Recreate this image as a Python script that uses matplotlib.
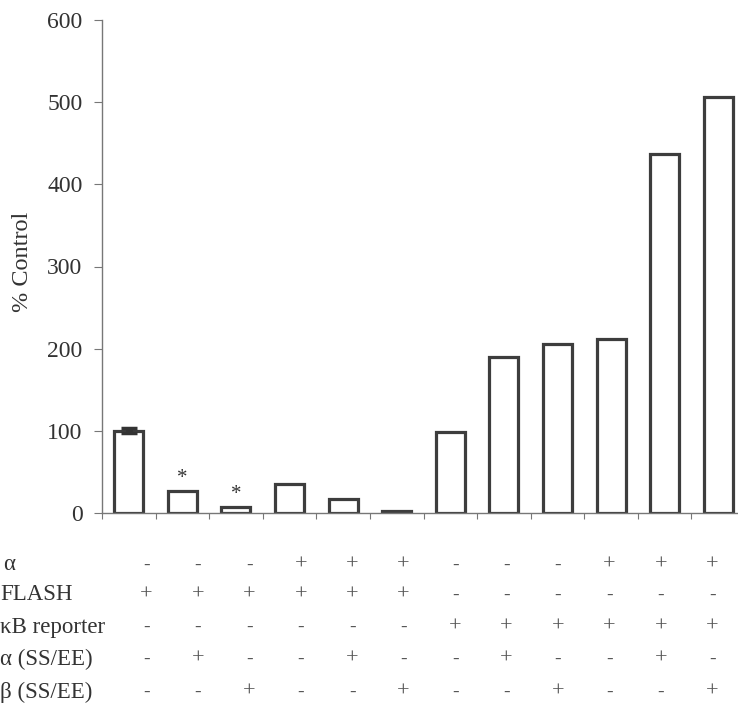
import matplotlib
matplotlib.use("Agg")
import matplotlib.pyplot as plt
import matplotlib.transforms as mtransforms

plt.rcParams['font.family'] = ['Liberation Serif', 'DejaVu Serif']

# ---- data ----
values = [100, 27, 7, 35, 17, 3, 98, 190, 206, 212, 437, 506]
errors = [3, 0, 0, 0, 0, 0, 0, 0, 0, 0, 0, 0]
significant = [False, True, True, False, False, False, False, False, False, False, False, False]
yticks = [0, 100, 200, 300, 400, 500, 600]
ylabel = "% Control"
row_labels = ["\u03b1", "FLASH", "\u03baB reporter", "\u03b1 (SS/EE)", "\u03b2 (SS/EE)"]
row_tnf = ["-", "-", "-", "+", "+", "+", "-", "-", "-", "+", "+", "+"]
row_flash = ["+", "+", "+", "+", "+", "+", "-", "-", "-", "-", "-", "-"]
row_reporter = ["-", "-", "-", "-", "-", "-", "+", "+", "+", "+", "+", "+"]
row_ikka = ["-", "+", "-", "-", "+", "-", "-", "+", "-", "-", "+", "-"]
row_ikkb = ["-", "-", "+", "-", "-", "+", "-", "-", "+", "-", "-", "+"]
rows = [row_tnf, row_flash, row_reporter, row_ikka, row_ikkb]

W, H = 738, 706
fig = plt.figure(figsize=(W / 100, H / 100), dpi=100)
ax = fig.add_axes([102 / W, 1 - 513 / H, 643 / W, (513 - 20) / H])

n = len(values)
xs = list(range(n))
edge = '#3d3d3d'
ax.bar(xs, values, width=0.54, facecolor='white', edgecolor=edge, linewidth=2.3, zorder=2)
ax.errorbar(xs[:1], values[:1], yerr=errors[:1], fmt='none', ecolor='#333333',
            elinewidth=5, capsize=6, capthick=2.5, zorder=3)
for x, v, s in zip(xs, values, significant):
    if s:
        ax.annotate("*", (x, v), xytext=(0, 2), textcoords='offset points',
                    ha='center', va='bottom', fontsize=15, color='#333333')

ax.set_xlim(-0.5, n - 0.5)
ax.set_ylim(0, 600)
ax.set_yticks(yticks)
ax.set_yticklabels([str(t) for t in yticks], fontsize=17, color='#333333')
ax.set_xticks([i - 0.5 for i in range(n + 1)])
ax.set_xticklabels([])
ax.tick_params(axis='y', direction='out', length=6, width=0.8, color='#777777', pad=8)
ax.tick_params(axis='x', direction='out', length=4, width=0.8, color='#777777')
for sp in ['top', 'right']:
    ax.spines[sp].set_visible(False)
for sp in ['left', 'bottom']:
    ax.spines[sp].set_color('#777777')
    ax.spines[sp].set_linewidth(1.0)

fig.text(23 / W, 1 - 262 / H, ylabel, rotation=90, ha='center', va='center',
         fontsize=17.5, color='#333333')

# ---- condition table below the axis ----
row_y = [565, 595, 627, 659, 692]
label_x = [3, 0, 0, 0, 0]
trans = mtransforms.blended_transform_factory(ax.transData, fig.transFigure)
for r, (lab, ry, lx) in enumerate(zip(row_labels, row_y, label_x)):
    fig.text(lx / W, 1 - ry / H, lab, ha='left', va='center', fontsize=16.5, color='#333333')
    for i, sym in enumerate(rows[r]):
        cx = 0.33 + i * 0.96
        ax.text(cx, 1 - ry / H, sym, transform=trans, ha='center', va='center',
                fontsize=16 if sym == '+' else 14, color='#555555', clip_on=False)

fig.savefig("out.png", dpi=100)
